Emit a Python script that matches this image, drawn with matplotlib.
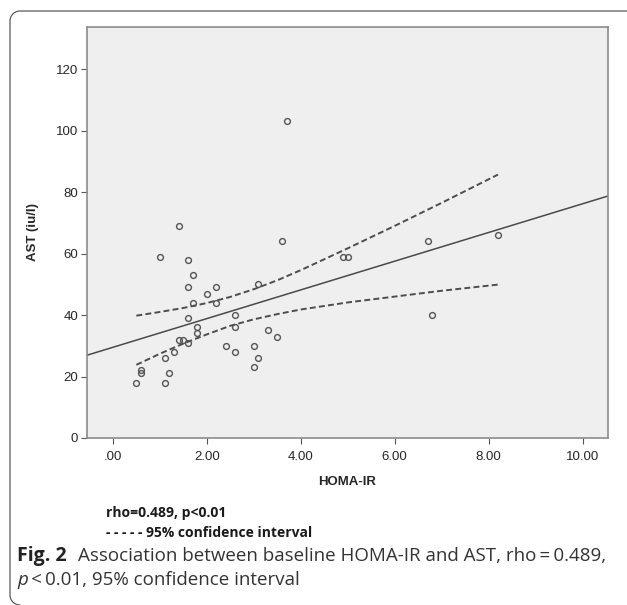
import matplotlib
matplotlib.use("Agg")
import matplotlib.pyplot as plt
import numpy as np
from matplotlib.lines import Line2D

# ---------------- data ----------------
homa_ir = [0.5, 0.6, 0.6, 1.0, 1.1, 1.1, 1.2, 1.3, 1.4, 1.4, 1.5, 1.6, 1.6, 1.6,
           1.6, 1.7, 1.7, 1.8, 1.8, 2.0, 2.2, 2.2, 2.4, 2.6, 2.6, 2.6, 3.0, 3.0,
           3.1, 3.1, 3.3, 3.5, 3.6, 3.7, 4.9, 5.0, 6.7, 6.8, 8.2]
ast = [18, 22, 21, 59, 26, 18, 21, 28, 32, 69, 32, 31, 58, 49,
       39, 53, 44, 36, 34, 47, 49, 44, 30, 40, 36, 28, 30, 23,
       50, 26, 35, 33, 64, 103, 59, 59, 64, 40, 66]

fit_intercept = 29.5
fit_slope = 4.67

ci_x = [0.5, 1.0, 1.5, 2.0, 2.5, 3.0, 3.5, 4.0, 5.0, 6.0, 7.0, 8.2]
ci_upper = [39.8, 41.0, 42.3, 43.9, 45.9, 48.4, 51.3, 54.6, 61.7, 69.0, 76.5, 85.7]
ci_lower = [23.8, 27.4, 30.7, 33.7, 36.5, 38.6, 40.3, 41.8, 44.1, 46.0, 47.9, 49.9]

x_ticks = [0, 2, 4, 6, 8, 10]
x_ticklabels = [".00", "2.00", "4.00", "6.00", "8.00", "10.00"]
y_ticks = [0, 20, 40, 60, 80, 100, 120]
y_ticklabels = ["0", "20", "40", "60", "80", "100", "120"]

x_label = "HOMA-IR"
y_label = "AST (iu/l)"
note_line1 = "rho=0.489, p<0.01"
note_line2 = "- - - - - 95% confidence interval"
cap_bold = "Fig. 2"
cap_line1 = "Association between baseline HOMA-IR and AST, rho\u2009=\u20090.489,"
cap_p = "p"
cap_line2 = "\u2009<\u20090.01, 95% confidence interval"

# ---------------- layout ----------------
W, H = 627, 605
plt.rcParams['lines.scale_dashes'] = False
fig = plt.figure(figsize=(W / 100, H / 100), dpi=100)
fig.patch.set_facecolor("white")


def fx(px):
    return px / W


def fy(py):
    return 1 - py / H


ax_l, ax_r, ax_t, ax_b = 87, 608, 27, 438
ax = fig.add_axes([fx(ax_l), fy(ax_b), (ax_r - ax_l) / W, (ax_b - ax_t) / H])
ax.set_facecolor("#efefef")
ax.set_xlim(-0.55, 10.54)
ax.set_ylim(0, 133.7)

for s in ax.spines.values():
    s.set_color("#8c8c8c")
    s.set_linewidth(1.2)

ax.set_xticks(x_ticks)
ax.set_xticklabels(x_ticklabels)
ax.set_yticks(y_ticks)
ax.set_yticklabels(y_ticklabels)
ax.tick_params(axis="both", direction="out", length=4.5, width=0.8,
               color="#555555", labelcolor="#262626", labelsize=9.5)
ax.tick_params(axis="x", pad=5)
ax.tick_params(axis="y", pad=2)
for lab in ax.get_xticklabels() + ax.get_yticklabels():
    lab.set_family(["Liberation Sans", "DejaVu Sans"])

# CI lines
ax.plot(ci_x, ci_upper, color="#4d4d4d", lw=1.4, dashes=(4.3, 2.3), zorder=2)
ax.plot(ci_x, ci_lower, color="#4d4d4d", lw=1.4, dashes=(4.3, 2.3), zorder=2)
# fit line
ax.axline((0, fit_intercept), slope=fit_slope, color="#4a4a4a", lw=1.1, zorder=2)
# points
ax.plot(homa_ir, ast, linestyle="none", marker="o", ms=4.2, mfc="none",
        mec="#555555", mew=1.0, zorder=3)

# axis labels
lab_font = dict(family=["Liberation Sans", "DejaVu Sans"], weight="bold",
                size=9.5, color="#262626")
fig.text(fx(33), fy(232), y_label, rotation=90, ha="center", va="center", **lab_font)
fig.text(fx(347), fy(482), x_label, ha="center", va="center", **lab_font)

# note lines
note_font = dict(family=["Open Sans", "DejaVu Sans"], weight="bold", size=10,
                 color="#1a1a1a")
fig.text(fx(106), fy(513), note_line1, ha="left", va="center", **note_font)
fig.text(fx(106), fy(533), note_line2, ha="left", va="center", **note_font)

# caption
cap_size = 13.5
fam = ["Open Sans", "DejaVu Sans"]
base1, base2 = 561, 585
t_fig = fig.text(fx(17), fy(base1), cap_bold, ha="left", va="baseline",
                 family=fam, weight="bold", size=cap_size + 0.5, color="#222222")
t_p = fig.text(fx(17), fy(base2), cap_p, ha="left", va="baseline",
               family=fam, style="italic", size=cap_size, color="#333333")
fig.canvas.draw()
r = fig.canvas.get_renderer()
bb1 = t_fig.get_window_extent(r)
fig.text((bb1.x1 + 11) / W, fy(base1), cap_line1, ha="left", va="baseline",
         family=fam, size=cap_size, color="#333333")
bb2 = t_p.get_window_extent(r)
fig.text((bb2.x1 + 0) / W, fy(base2), cap_line2, ha="left", va="baseline",
         family=fam, size=cap_size, color="#333333")

# rounded border (left, top; bottom-left corner)
rad = 10
th = np.linspace(np.pi, 1.5 * np.pi, 20)
tl_x = (10 + rad) + rad * np.cos(th)
tl_y = (11 + rad) + rad * np.sin(th)
th2 = np.linspace(0.5 * np.pi, np.pi, 20)[::-1]
bl_x = (10 + rad) + rad * np.cos(th2)
bl_y = (605 - rad) + rad * np.sin(th2)
bx = np.concatenate([[W + 2], tl_x[::-1], bl_x])
by = np.concatenate([[11], tl_y[::-1], bl_y])
fig.add_artist(Line2D([fx(v) for v in bx], [fy(v) for v in by],
                      transform=fig.transFigure, color="#5a5a5a", lw=0.9))

fig.savefig("out.png", dpi=100)
